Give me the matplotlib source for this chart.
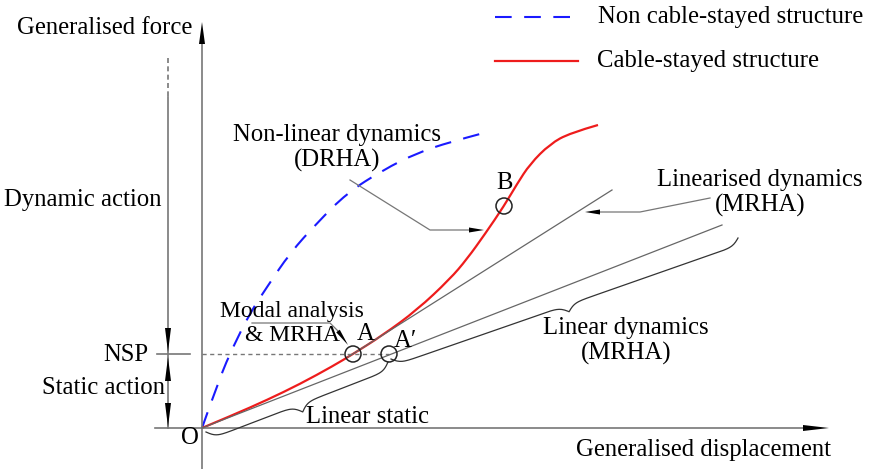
import numpy as np
import matplotlib.pyplot as plt
from matplotlib.patches import Circle, Polygon, PathPatch
from matplotlib.path import Path

plt.rcParams['font.family'] = ['Liberation Serif', 'DejaVu Serif']

# schematic curves, origin O at (0, 0), units ~ pixels of the drawing
red_disp = [0, 31, 65, 98, 131, 151, 181, 215, 248, 265, 283, 302, 315, 328, 348, 368, 396]
red_force = [0, 13, 28, 44, 62, 74, 93, 118, 149, 169, 194, 222, 244, 264, 284, 295, 303]

blue_disp = [0, 18, 31, 48, 65, 88, 115, 145, 181, 215, 248, 278]
blue_force = [0, 51, 81, 115, 141, 175, 205, 235, 258, 275, 286, 294]

nsp = 74
pt_A = (151, 74)
pt_A2 = (187, 74)
pt_B = (302, 222)

# straight lines: linearised dynamics (tangent at A), linear static / dynamics (secant O-A')
lin_dyn_x = [146, 410]
lin_dyn_y = [71, 238]
lin_sta_x = [0, 520]
lin_sta_y = [0, 203]


def px(x, y):
    # position given in pixels of the original picture
    return (x - 202, 428 - y)


def head(tip, base, hw, color='black'):
    tip = np.array(tip, float)
    base = np.array(base, float)
    d = tip - base
    n = np.array([-d[1], d[0]]) / np.hypot(*d) * hw
    ax.add_patch(Polygon([tip, base + n, base - n], closed=True, color=color, lw=0, zorder=5))


def smooth(xs, ys, **kw):
    # quadratic bezier through midpoints, read points used as control points
    p = np.column_stack([xs, ys]).astype(float)
    verts = [p[0]]
    codes = [Path.MOVETO]
    for i in range(1, len(p) - 1):
        mid = (p[i] + p[i + 1]) / 2 if i < len(p) - 2 else p[i + 1]
        verts += [p[i], mid]
        codes += [Path.CURVE3, Path.CURVE3]
    ax.add_patch(PathPatch(Path(verts, codes), fill=False, **kw))


def brace(p0, p1, depth, beta=0.25, **kw):
    p0 = np.array(p0, float)
    p1 = np.array(p1, float)
    d = p1 - p0
    L = np.hypot(*d)
    u = d / L
    n = np.array([u[1], -u[0]])
    t = np.linspace(0, L / 2, 150)
    half = 1 / (1 + np.exp(-beta * (t - t[0]))) + 1 / (1 + np.exp(-beta * (t - t[-1])))
    v = np.concatenate((half, half[-2::-1])) - 0.5
    s = np.concatenate((t, L - t[-2::-1]))
    xs = p0[0] + s * u[0] + depth * v * n[0]
    ys = p0[1] + s * u[1] + depth * v * n[1]
    ax.plot(xs, ys, **kw)


fig = plt.figure(figsize=(8.75, 4.69), dpi=100)
ax = fig.add_axes([0, 0, 1, 1])
ax.set_xlim(-202, 673)
ax.set_ylim(-41, 428)
ax.axis('off')

grey = '#777777'
fs = 17.8

# axes
ax.plot(*zip(px(202, 469), px(202, 40)), color=grey, lw=1.2)
head(px(202, 22), px(202, 44), 3)
ax.plot(*zip(px(155, 428), px(805, 428)), color=grey, lw=1.2)
head(px(829, 428), px(803, 428), 3)

# action dimension line
ax.plot(*zip(px(168, 97), px(168, 428)), color=grey, lw=1.2)
ax.plot(*zip(px(168, 58), px(168, 97)), color=grey, lw=1.2, dashes=(3, 2))
head(px(168, 352), px(168, 328), 3)
head(px(168, 357), px(168, 381), 3)
head(px(168, 427), px(168, 403), 3)
ax.plot([px(157, 0)[0], px(190, 0)[0]], [nsp, nsp], color=grey, lw=1.2)
ax.plot([0, pt_A2[0]], [nsp, nsp], color=grey, lw=1, dashes=(3, 2.5))

# straight lines
ax.plot(lin_dyn_x, lin_dyn_y, color='#666666', lw=0.9)
ax.plot(lin_sta_x, lin_sta_y, color='#666666', lw=0.9)

# curves
smooth(blue_disp, blue_force, ec='#1a1aff', lw=1.5, linestyle=(0, (8, 6)))
smooth(red_disp, red_force, ec='#ee1c1c', lw=1.6)

# points
for p in (pt_A, pt_A2, pt_B):
    ax.add_patch(Circle(p, 8, fill=False, ec='#222222', lw=1.1, zorder=6))

# braces
brace(px(206, 432), px(388, 362), 16, color='#333333', lw=0.9)
brace(px(391, 359), px(738, 238), 14, color='#333333', lw=0.9)

# leaders
ax.plot(*zip(px(350, 180), px(430, 230), px(472, 230)), color=grey, lw=0.9)
head(px(484, 230), px(469, 230), 2.5)
ax.plot(*zip(px(710, 198), px(640, 212), px(598, 212)), color=grey, lw=0.9)
head(px(585, 212), px(600, 212), 2.5)
ax.plot(*zip(px(252, 323), px(330, 323), px(340, 333)), color=grey, lw=0.9)
head(px(348, 345), px(338, 331), 2.2)


# texts
def txt(x, y, s, **kw):
    ax.text(*px(x, y), s, fontsize=kw.pop('size', fs), ha=kw.pop('ha', 'center'), va='center', **kw)


txt(192, 28, 'Generalised force', ha='right')
txt(703, 450, 'Generalised displacement')
txt(162, 200, 'Dynamic action', ha='right')
txt(103, 388, 'Static action')
txt(148, 355, 'NSP', ha='right')
txt(190, 438, 'O')
txt(337, 148, 'Non-linear dynamics\n(DRHA)', linespacing=1.2)
txt(760, 193, 'Linearised dynamics\n(MRHA)', linespacing=1.2)
txt(626, 341, 'Linear dynamics\n(MRHA)', linespacing=1.15)
txt(292, 311, 'Modal analysis', size=17)
txt(292, 335, '& MRHA', size=17)
txt(366, 334, 'A')
txt(405, 341, "A\u2032")
txt(505, 183, 'B')

txt(368, 417, 'Linear static')

# legend
ax.plot(*zip(px(495, 17), px(578, 17)), color='#1a1aff', lw=1.5, dashes=(8, 6))
txt(598, 17, 'Non cable-stayed structure', ha='left')
ax.plot(*zip(px(495, 61), px(578, 61)), color='#ee1c1c', lw=1.6)
txt(597, 61, 'Cable-stayed structure', ha='left')

fig.savefig('out.png', dpi=100)
